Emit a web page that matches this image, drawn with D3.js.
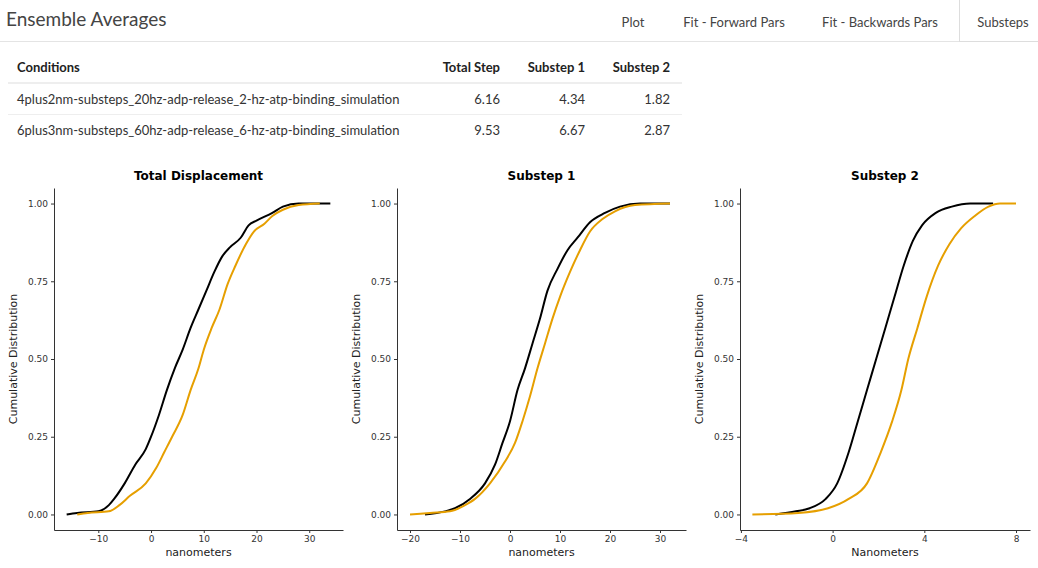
<!DOCTYPE html>
<html>
<head>
<meta charset="utf-8">
<script src="https://cdn.jsdelivr.net/npm/d3@7"></script>
<style>
body { margin: 0; font-family: Lato, "Open Sans", sans-serif; color: #333; background: #fff; }
#chart text { font-family: "DejaVu Sans", sans-serif; }
</style>
</head>
<body>
<div id="chart"></div>
<script>
// quantile points [x, cumulative prob]
const panels = [
    {
        title: "Total Displacement", xlab: "nanometers", left: 54, right: 343,
        domain: [-18.4, 36.4], ticks: [-10, 0, 10, 20, 30],
        black: [[-16,0],[-14,0.005],[-10,0.01],[-8,0.03],[-7,0.05],[-5,0.1],[-3,0.16],[-1,0.21],[0,0.25],[1.5,0.32],[3,0.4],[4.5,0.47],[6,0.53],[7.5,0.6],[9,0.66],[10.5,0.72],[12,0.78],[13.5,0.83],[15,0.86],[17,0.89],[18.5,0.93],[20,0.945],[23,0.97],[25,0.99],[28,1],[34,1]],
        orange: [[-14,0],[-12,0.005],[-8,0.01],[-6,0.03],[-4,0.06],[-1,0.1],[1,0.15],[2.5,0.2],[4,0.25],[6,0.32],[7.5,0.4],[9,0.47],[10,0.53],[11.5,0.6],[13,0.66],[14.5,0.74],[16,0.8],[18,0.87],[19.5,0.91],[21.5,0.935],[23,0.96],[25,0.98],[28,0.995],[32,1]]
    },
    {
        title: "Substep 1", xlab: "nanometers", left: 397, right: 686,
        domain: [-22.6, 35.2], ticks: [-20, -10, 0, 10, 20, 30],
        black: [[-17,0],[-13,0.01],[-11,0.02],[-8,0.05],[-5,0.1],[-3,0.16],[-1.5,0.23],[0,0.3],[1.5,0.4],[3,0.47],[4.5,0.55],[6,0.63],[7.5,0.72],[9.5,0.79],[11.5,0.85],[13.5,0.89],[16,0.94],[19,0.97],[22,0.99],[26,1],[32,1]],
        orange: [[-20,0],[-16,0.005],[-12,0.01],[-9,0.03],[-7,0.05],[-4,0.1],[-1,0.17],[1,0.23],[2.5,0.3],[4,0.38],[5.5,0.47],[7,0.55],[8.5,0.63],[10,0.7],[12,0.78],[14,0.85],[16,0.91],[18.5,0.95],[21,0.975],[25,0.995],[32,1]]
    },
    {
        title: "Substep 2", xlab: "Nanometers", left: 740, right: 1030,
        domain: [-4.04, 8.61], ticks: [-4, 0, 4, 8],
        black: [[-2.5,0],[-1.6,0.01],[-1,0.02],[-0.3,0.05],[0.2,0.1],[0.7,0.2],[1.1,0.3],[1.5,0.4],[1.9,0.5],[2.3,0.6],[2.7,0.7],[3.1,0.8],[3.5,0.88],[3.9,0.93],[4.5,0.97],[5.2,0.99],[6,1],[7,1]],
        orange: [[-3.5,0],[-1.5,0.005],[-0.2,0.02],[0.7,0.05],[1.5,0.1],[2.1,0.2],[2.6,0.3],[3,0.4],[3.3,0.5],[3.7,0.6],[4.1,0.7],[4.6,0.8],[5.1,0.87],[5.6,0.92],[6.2,0.96],[6.8,0.99],[7.3,1],[8,1]]
    }
];

const table = [
    { cond: "4plus2nm-substeps_20hz-adp-release_2-hz-atp-binding_simulation", total: "6.16", s1: "4.34", s2: "1.82" },
    { cond: "6plus3nm-substeps_60hz-adp-release_6-hz-atp-binding_simulation", total: "9.53", s1: "6.67", s2: "2.87" }
];

const svg = d3.select("#chart").append("svg")
    .attr("width", 1038)
    .attr("height", 568);

// header
svg.append("text").attr("x", 6).attr("y", 26).attr("font-size", 19)
    .style("font-family", "Lato, sans-serif").attr("fill", "#444").text("Ensemble Averages");
svg.append("line").attr("x1", 0).attr("x2", 1038).attr("y1", 41.5).attr("y2", 41.5).attr("stroke", "#e4e4e4");
svg.append("rect").attr("x", 959.5).attr("y", -2).attr("width", 80).attr("height", 43.5)
    .attr("fill", "#fff").attr("stroke", "#ddd");
const tabs = [["Plot", 633], ["Fit - Forward Pars", 734], ["Fit - Backwards Pars", 880], ["Substeps", 1003]];
tabs.forEach(t => svg.append("text").attr("x", t[1]).attr("y", 27).attr("text-anchor", "middle")
    .attr("font-size", 13).style("font-family", "Lato, sans-serif").attr("fill", "#444").text(t[0]));

// table
const cols = [["Conditions", 17, "start", "cond"], ["Total Step", 500, "end", "total"], ["Substep 1", 585, "end", "s1"], ["Substep 2", 670, "end", "s2"]];
cols.forEach(c => svg.append("text").attr("x", c[1]).attr("y", 72).attr("text-anchor", c[2])
    .attr("font-size", 13).attr("font-weight", "bold").style("font-family", "Lato, sans-serif").attr("fill", "#222").text(c[0]));
svg.append("rect").attr("x", 8).attr("y", 82).attr("width", 674).attr("height", 2).attr("fill", "#eee");
table.forEach((r, i) => {
    const y = 104 + i * 31;
    cols.forEach(c => svg.append("text").attr("x", c[1]).attr("y", y).attr("text-anchor", c[2])
        .attr("font-size", 13).style("font-family", "Lato, sans-serif").attr("fill", "#333").text(r[c[3]]));
    if (i === 0) svg.append("line").attr("x1", 8).attr("x2", 682).attr("y1", 114.5).attr("y2", 114.5).attr("stroke", "#eee");
});

// panels
const yScale = d3.scaleLinear().domain([-0.05, 1.05]).range([530, 188]);
panels.forEach(p => {
    const x = d3.scaleLinear().domain(p.domain).range([p.left, p.right]);
    const g = svg.append("g");
    g.append("g").attr("transform", `translate(0,530)`)
        .call(d3.axisBottom(x).tickValues(p.ticks).tickSize(3).tickSizeOuter(0))
        .call(a => a.selectAll("text").attr("font-size", 9).attr("fill", "#333"))
        .call(a => a.select(".domain").attr("stroke", "#333"));
    g.append("g").attr("transform", `translate(${p.left},0)`)
        .call(d3.axisLeft(yScale).tickValues([0, 0.25, 0.5, 0.75, 1]).tickFormat(d3.format(".2f")).tickSize(3).tickSizeOuter(0))
        .call(a => a.selectAll("text").attr("font-size", 9).attr("fill", "#333"))
        .call(a => a.select(".domain").attr("stroke", "#333"));
    g.append("text").attr("x", (p.left + p.right) / 2).attr("y", 180).attr("text-anchor", "middle")
        .attr("font-size", 12).attr("font-weight", "bold").attr("fill", "#000").text(p.title);
    g.append("text").attr("x", (p.left + p.right) / 2).attr("y", 556).attr("text-anchor", "middle")
        .attr("font-size", 11).attr("fill", "#222").text(p.xlab);
    g.append("text").attr("transform", `translate(${p.left - 37},359) rotate(-90)`).attr("text-anchor", "middle")
        .attr("font-size", 11).attr("fill", "#222").text("Cumulative Distribution");
    const line = d3.line().x(d => x(d[0])).y(d => yScale(d[1])).curve(d3.curveMonotoneX);
    g.append("path").attr("d", line(p.black)).attr("fill", "none").attr("stroke", "#000").attr("stroke-width", 2);
    g.append("path").attr("d", line(p.orange)).attr("fill", "none").attr("stroke", "#E69F00").attr("stroke-width", 2);
});
</script>
</body>
</html>
